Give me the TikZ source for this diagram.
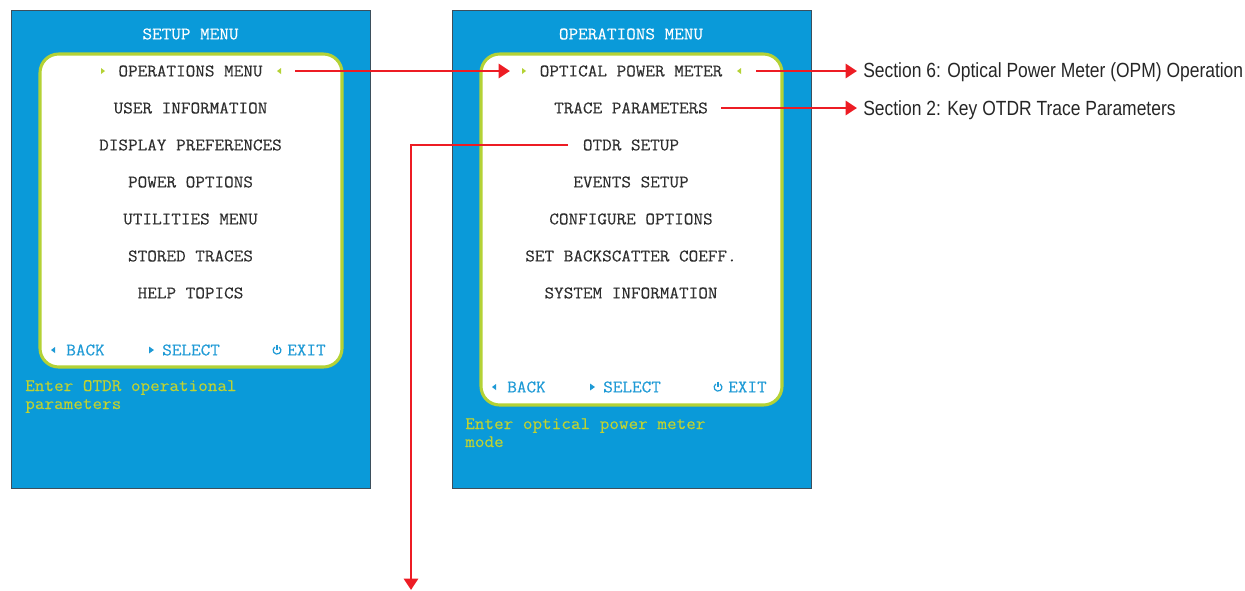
\documentclass[tikz,border=0pt]{standalone}
\usepackage{fontspec}
\setmainfont{Liberation Sans}
\setmonofont[FakeStretch=1.06,FakeBold=0.25]{Latin Modern Mono}
\usetikzlibrary{arrows.meta}
\definecolor{panelblue}{HTML}{0A9AD9}
\definecolor{paneledge}{HTML}{3D4F5C}
\definecolor{limeedge}{HTML}{B4D235}
\definecolor{helptext}{HTML}{BFD232}
\definecolor{itemtext}{HTML}{2E2E2E}
\definecolor{foottext}{HTML}{1E9AD6}
\definecolor{linkred}{HTML}{ED1C24}
\newcommand{\mono}{\ttfamily\fontsize{13.2}{16}\selectfont}
\tikzset{
  x=0.75pt,y=-0.75pt,
  panel/.style={fill=panelblue,draw=paneledge,line width=0.75pt},
  screen/.style={fill=white,draw=limeedge,line width=2.3pt,rounded corners=14pt},
  menutitle/.style={font=\mono,text=white,inner sep=0pt},
  menuitem/.style={font=\mono,text=itemtext,inner sep=0pt},
  foot/.style={font=\mono,text=foottext,inner sep=0pt,anchor=west},
  help/.style={font=\mono,text=helptext,inner sep=0pt,anchor=base west},
  section/.style={font=\fontsize{15.4}{18}\selectfont,text=black!85,inner sep=0pt,anchor=base west},
  link/.style={draw=linkred,line width=2.1pt,-{Triangle[length=8.5pt,width=10.5pt]}},
  limemark/.style={fill=limeedge,draw=none},
  footmark/.style={fill=foottext,draw=none},
  powermark/.style={draw=foottext,line width=0.9pt},
}
\begin{document}
\begin{tikzpicture}
\useasboundingbox (0,0) rectangle (1245,590);
% left panel
\draw[panel] (11,10.5) rectangle (370,488);
\draw[screen] (40,54) rectangle (342,367);
\node[menutitle] (ltitle) at (190.5,34) {SETUP MENU};
\node[menuitem] (l1) at (190.5,71) {OPERATIONS MENU};
\node[menuitem] (l2) at (190.5,108) {USER INFORMATION};
\node[menuitem] (l3) at (190.5,145) {DISPLAY PREFERENCES};
\node[menuitem] (l4) at (190.5,182) {POWER OPTIONS};
\node[menuitem] (l5) at (190.5,219) {UTILITIES MENU};
\node[menuitem] (l6) at (190.5,256) {STORED TRACES};
\node[menuitem] (l7) at (190.5,293) {HELP TOPICS};
\fill[limemark] (101,68) -- (105,71) -- (101,74) -- cycle;
\fill[limemark] (281,68) -- (277,71) -- (281,74) -- cycle;
\fill[footmark] (55,347) -- (51,350) -- (55,353) -- cycle;
\node[foot] (lback) at (66,350) {BACK};
\fill[footmark] (149,346.5) -- (154,350) -- (149,353.5) -- cycle;
\node[foot] (lselect) at (162,350) {SELECT};
\draw[powermark] (274.76,347) arc[start angle=235,end angle=-55,radius=3.9];
\draw[powermark] (277,344.6) -- (277,350);
\node[foot] (lexit) at (287,350) {EXIT};
\node[help] (lh1) at (25,391) {Enter OTDR operational};
\node[help] (lh2) at (25,409) {parameters};
% right panel
\draw[panel] (452,10.5) rectangle (811,488);
\draw[screen] (481,54) rectangle (782,405);
\node[menutitle] (rtitle) at (631,34) {OPERATIONS MENU};
\node[menuitem] (r1) at (631,71) {OPTICAL POWER METER};
\node[menuitem] (r2) at (631,108) {TRACE PARAMETERS};
\node[menuitem] (r3) at (631,145) {OTDR SETUP};
\node[menuitem] (r4) at (631,182) {EVENTS SETUP};
\node[menuitem] (r5) at (631,219) {CONFIGURE OPTIONS};
\node[menuitem] (r6) at (631,256) {SET BACKSCATTER COEFF.};
\node[menuitem] (r7) at (631,293) {SYSTEM INFORMATION};
\fill[limemark] (522,68) -- (526,71) -- (522,74) -- cycle;
\fill[limemark] (741,68) -- (737,71) -- (741,74) -- cycle;
\fill[footmark] (496,384) -- (492,387) -- (496,390) -- cycle;
\node[foot] (rback) at (507,387) {BACK};
\fill[footmark] (590,383.5) -- (595,387) -- (590,390.5) -- cycle;
\node[foot] (rselect) at (603,387) {SELECT};
\draw[powermark] (715.76,384) arc[start angle=235,end angle=-55,radius=3.9];
\draw[powermark] (718,381.6) -- (718,387);
\node[foot] (rexit) at (728,387) {EXIT};
\node[help] (rh1) at (465,429) {Enter optical power meter};
\node[help] (rh2) at (465,447) {mode};
% targets
\node[section] (s6) at (863,77) {\addfontfeature{FakeStretch=0.85}Section 6: Optical Power Meter (OPM) Operation};
\node[section] (s2) at (863,115) {\addfontfeature{FakeStretch=0.85}Section 2: Key OTDR Trace Parameters};
\coordinate (off) at (411,590);
% connectors
\coordinate (a1) at (295,71);
\coordinate (a2) at (510,71);
\coordinate (b1) at (756,71);
\coordinate (b2) at (857,71);
\coordinate (c1) at (721,108);
\coordinate (c2) at (857,108);
\coordinate (d1) at (568,145);
\draw[link] (a1) -- (a2);
\draw[link] (b1) -- (b2);
\draw[link] (c1) -- (c2);
\draw[link] (d1) -- (d1 -| off) -- (off);
\end{tikzpicture}
\end{document}
